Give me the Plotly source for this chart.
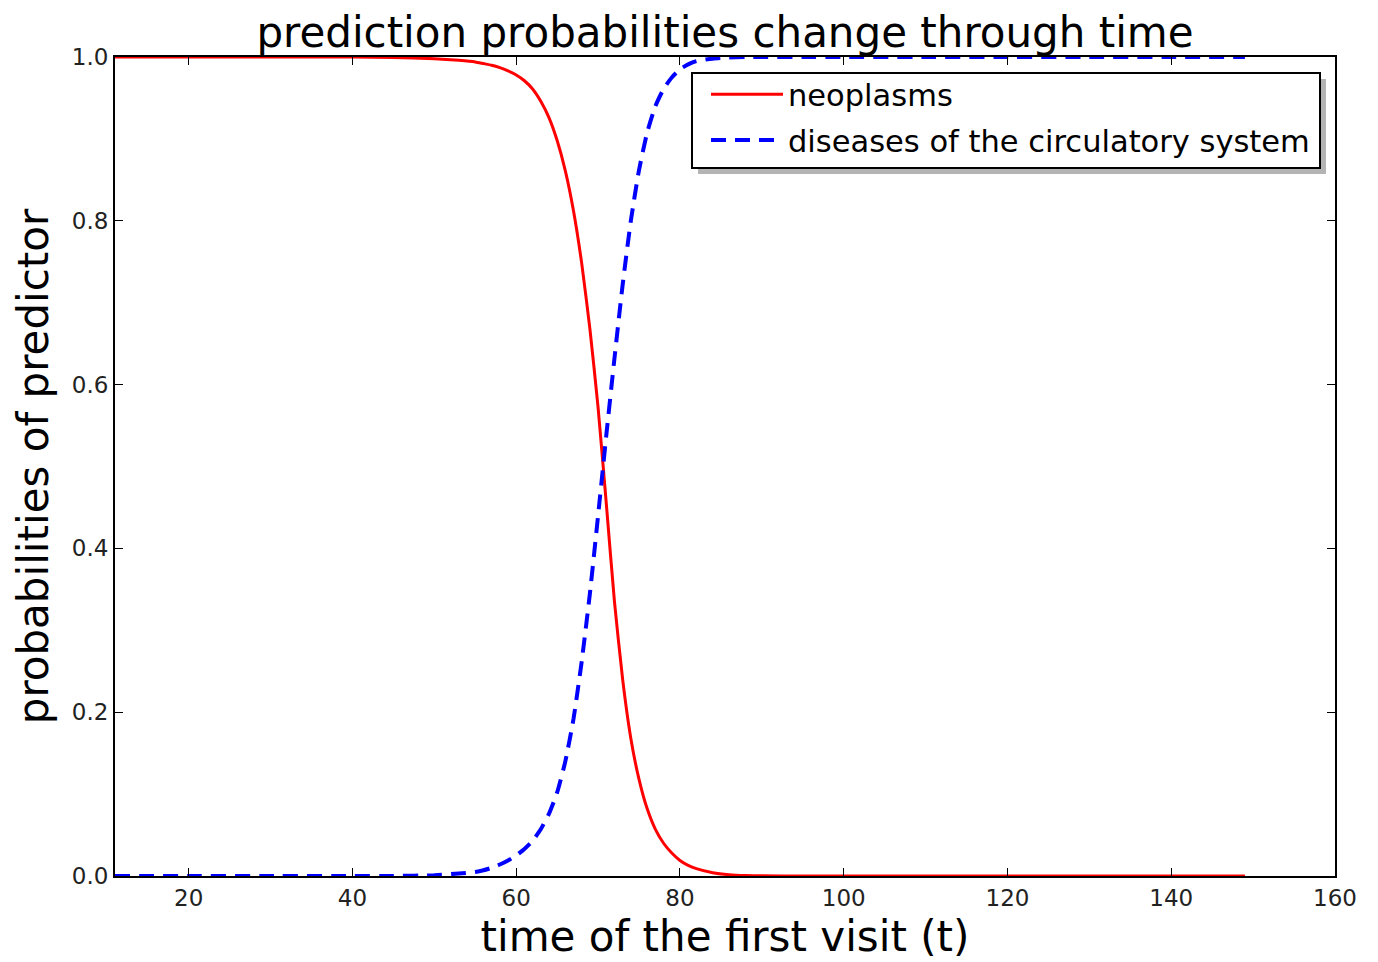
import plotly.graph_objects as go

# time of the first visit (t)
t = [11, 20, 30, 40, 45, 50, 53, 55, 56, 57, 58, 59, 60, 61, 62, 63, 64, 65, 66, 67,
     68, 69, 70, 71, 72, 73, 74, 75, 76, 77, 78, 79, 80, 81, 82, 84, 86, 88, 90,
     95, 100, 110, 120, 130, 140, 149]

neoplasms = [1.0, 1.0, 1.0, 1.0, 0.9995, 0.998, 0.996, 0.994, 0.992, 0.990, 0.987,
             0.983, 0.978, 0.971, 0.961, 0.946, 0.926, 0.898, 0.861, 0.812, 0.748,
             0.668, 0.572, 0.455, 0.335, 0.240, 0.168, 0.118, 0.082, 0.057, 0.040,
             0.028, 0.019, 0.013, 0.009, 0.004, 0.0015, 0.0005, 0.0002, 0.0, 0.0,
             0.0, 0.0, 0.0, 0.0, 0.0]

circulatory = [0.0, 0.0, 0.0, 0.0, 0.0, 0.001, 0.003, 0.005, 0.007, 0.010, 0.014,
               0.019, 0.025, 0.033, 0.043, 0.057, 0.076, 0.102, 0.140, 0.192, 0.262,
               0.345, 0.440, 0.538, 0.632, 0.722, 0.800, 0.862, 0.908, 0.940, 0.961,
               0.975, 0.985, 0.991, 0.995, 0.998, 0.9995, 1.0, 1.0, 1.0, 1.0, 1.0,
               1.0, 1.0, 1.0, 1.0]

x_ticks = [20, 40, 60, 80, 100, 120, 140, 160]
y_ticks = [0.0, 0.2, 0.4, 0.6, 0.8, 1.0]
y_tick_labels = ["0.0", "0.2", "0.4", "0.6", "0.8", "1.0"]

FONT = "DejaVu Sans"
# page body has an 8px margin; plot area placed at 115..1335 x 57..876 on screen
PW, PH = 1220, 819
OX, OY = 115, 876  # screen coords of plot-area bottom-left


def px(xs):
    return (xs - OX) / PW


def py(ys):
    return (OY - ys) / PH


fig = go.Figure()
fig.add_trace(go.Scatter(x=t, y=neoplasms, mode="lines", name="neoplasms",
                         legendgroup="a",
                         line=dict(color="#ff0000", width=3,
                                   shape="spline", smoothing=0.5)))
fig.add_trace(go.Scatter(x=t, y=circulatory, mode="lines",
                         name="diseases of the circulatory system",
                         legendgroup="b",
                         line=dict(color="#0000ff", width=4, dash="15px,9px",
                                   shape="spline", smoothing=0.5)))

# legend frame with shadow
fig.add_shape(type="rect", xref="paper", yref="paper",
              x0=px(698), x1=px(1326), y0=py(174), y1=py(79),
              fillcolor="#b4b4b4", line=dict(width=0), layer="above")
fig.add_shape(type="rect", xref="paper", yref="paper",
              x0=px(692), x1=px(1320), y0=py(168), y1=py(73),
              fillcolor="white", line=dict(color="black", width=2), layer="above")

fig.update_layout(
    width=1378, height=962,
    margin=dict(l=107, r=51, t=49, b=94),
    paper_bgcolor="white", plot_bgcolor="white",
    font=dict(family=FONT, color="black"),
    title=dict(text="prediction probabilities change through time",
               x=0.5, xref="paper", xanchor="center",
               y=1 - 24 / 962, yref="container", yanchor="middle",
               font=dict(size=42, family=FONT, color="black")),
    legend=dict(x=px(706), y=py(68),
                xanchor="left", yanchor="top",
                bgcolor="rgba(0,0,0,0)", borderwidth=0,
                itemwidth=72,
                font=dict(size=30.5, family=FONT, color="black"),
                tracegroupgap=3),
    showlegend=True,
    xaxis=dict(range=[11, 160], tickvals=x_ticks,
               ticktext=[str(v) for v in x_ticks],
               showgrid=False, zeroline=False,
               showline=True, linecolor="black", linewidth=2, mirror="ticks",
               ticks="inside", ticklen=8, tickcolor="black", tickwidth=1,
               tickfont=dict(size=23, family=FONT, color="#222"),
               title=dict(text="time of the first visit (t)",
                          font=dict(size=42, family=FONT, color="black"),
                          standoff=12)),
    yaxis=dict(range=[0, 1], tickvals=y_ticks, ticktext=y_tick_labels,
               showgrid=False, zeroline=False,
               showline=True, linecolor="black", linewidth=2, mirror="ticks",
               ticks="inside", ticklen=8, tickcolor="black", tickwidth=1,
               tickfont=dict(size=23, family=FONT, color="#222"),
               title=dict(text="probabilities of predictor",
                          font=dict(size=42, family=FONT, color="black"),
                          standoff=10)),
)

fig.write_html("out.html")
